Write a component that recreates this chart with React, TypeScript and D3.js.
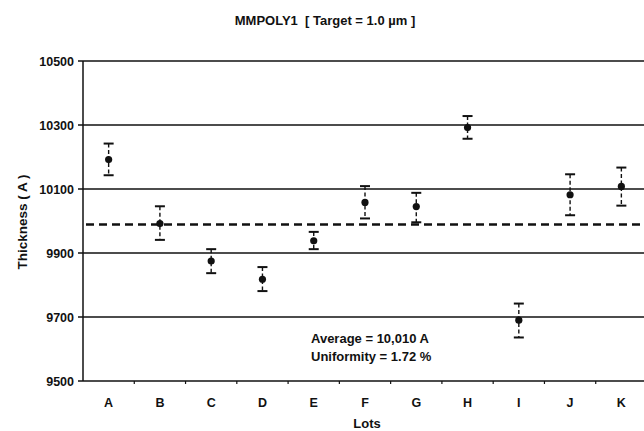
import React from "react";
import * as d3 from "d3";

const lots = ["A", "B", "C", "D", "E", "F", "G", "H", "I", "J", "K"];
const means = [10192, 9992, 9875, 9818, 9938, 10058, 10045, 10292, 9690, 10082, 10108];
const upper = [10242, 10046, 9912, 9856, 9966, 10109, 10088, 10328, 9742, 10146, 10167];
const lower = [10143, 9941, 9837, 9781, 9912, 10008, 9996, 10257, 9636, 10018, 10048];
const yTicks = [9500, 9700, 9900, 10100, 10300, 10500];
const gridValues = [9700, 9900, 10100, 10300, 10500];
const averageLine = 9989;
const title = "MMPOLY1  [ Target = 1.0 µm ]";
const yTitle = "Thickness ( A )";
const xTitle = "Lots";
const notes = ["Average = 10,010 A", "Uniformity = 1.72 %"];

const W = 644;
const H = 431;
const FONT = "'Liberation Sans', Arial, Helvetica, sans-serif";

export default function App() {
  const x = d3.scaleBand<string>().domain(lots).range([83, 647]).paddingInner(0).paddingOuter(0);
  const y = d3.scaleLinear().domain([9500, 10500]).range([381, 61]);
  const bw = x.bandwidth();
  const x0 = x.range()[0];
  const x1 = x.range()[1];

  return (
    <svg
      width={W}
      height={H}
      viewBox={`0 0 ${W} ${H}`}
      style={{ position: "absolute", left: 0, top: 0, background: "#fff", fontFamily: FONT }}
    >
      <rect x={0} y={0} width={W} height={H} fill="#fff" />
      <text
        x={325}
        y={25}
        textAnchor="middle"
        fontSize={13}
        fontWeight="bold"
        fill="#111"
        style={{ whiteSpace: "pre" }}
      >
        {title}
      </text>

      {/* grid lines */}
      {gridValues.map((v) => (
        <line key={v} x1={x0} x2={x1} y1={y(v)} y2={y(v)} stroke="#111" strokeWidth={1.6} />
      ))}

      {/* average dashed line */}
      <line
        x1={x0 + 3}
        x2={x1}
        y1={y(averageLine)}
        y2={y(averageLine)}
        stroke="#111"
        strokeWidth={2.6}
        strokeDasharray="8,5"
      />

      {/* axes */}
      <line x1={x0} x2={x0} y1={y(10500)} y2={y(9500)} stroke="#111" strokeWidth={1.5} />
      <line x1={x0} x2={x1} y1={y(9500)} y2={y(9500)} stroke="#111" strokeWidth={1.6} />
      {yTicks.map((v) => (
        <g key={v}>
          <line x1={x0 - 5} x2={x0} y1={y(v)} y2={y(v)} stroke="#111" strokeWidth={1.5} />
          <text x={x0 - 9} y={y(v) + 4.5} textAnchor="end" fontSize={12.5} fontWeight="bold" fill="#111">
            {v}
          </text>
        </g>
      ))}
      {lots.map((l, i) => {
        const bx = (x(l) as number) + bw;
        return i < lots.length - 1 ? (
          <line key={l} x1={bx} x2={bx} y1={y(9500)} y2={y(9500) + 3} stroke="#111" strokeWidth={1.2} />
        ) : null;
      })}
      {lots.map((l) => (
        <text
          key={l}
          x={(x(l) as number) + bw / 2}
          y={407}
          textAnchor="middle"
          fontSize={12.5}
          fontWeight="bold"
          fill="#111"
        >
          {l}
        </text>
      ))}
      <text x={367} y={428} textAnchor="middle" fontSize={13} fontWeight="bold" fill="#111">
        {xTitle}
      </text>
      <text
        transform={`translate(27,222) rotate(-90)`}
        textAnchor="middle"
        fontSize={13.5}
        fontWeight="bold"
        fill="#111"
      >
        {yTitle}
      </text>

      {/* error bars */}
      {lots.map((l, i) => {
        const cx = (x(l) as number) + bw / 2;
        return (
          <g key={l}>
            <line
              x1={cx}
              x2={cx}
              y1={y(upper[i])}
              y2={y(lower[i])}
              stroke="#111"
              strokeWidth={1.4}
              strokeDasharray="4,2.5"
            />
            <line x1={cx - 5} x2={cx + 5} y1={y(upper[i])} y2={y(upper[i])} stroke="#111" strokeWidth={2} />
            <line x1={cx - 5} x2={cx + 5} y1={y(lower[i])} y2={y(lower[i])} stroke="#111" strokeWidth={2} />
            <circle cx={cx} cy={y(means[i])} r={3.6} fill="#111" />
          </g>
        );
      })}

      {/* annotation */}
      {notes.map((n, i) => (
        <text key={n} x={311} y={343 + i * 18} fontSize={13} fontWeight="bold" fill="#111">
          {n}
        </text>
      ))}
    </svg>
  );
}
